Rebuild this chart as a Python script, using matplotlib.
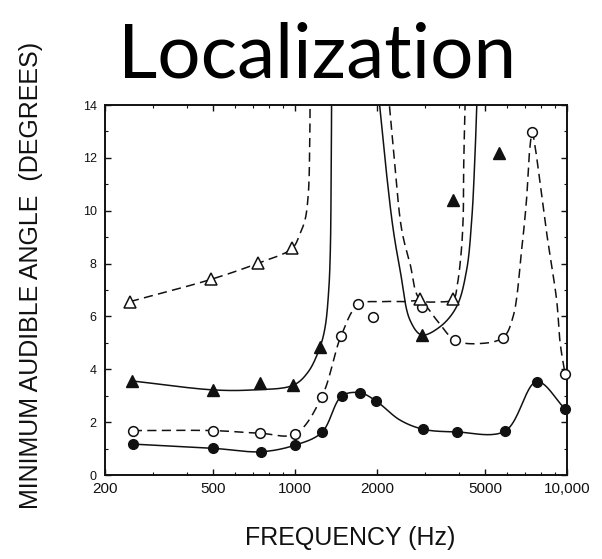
import numpy as np
import matplotlib.pyplot as plt
from matplotlib.ticker import FixedLocator, FixedFormatter, NullFormatter

# ---- data ----
# filled circles (solid)
fc_f = [253, 500, 750, 1000, 1254, 1485, 1734, 1986, 2963, 3930, 5916, 7740, 9840]
fc_y = [1.17, 1.01, 0.88, 1.13, 1.61, 2.99, 3.11, 2.80, 1.73, 1.63, 1.66, 3.53, 2.50]
fc_line_f = [253, 500, 750, 1000, 1254, 1485, 1734, 1986, 2430, 2963, 3930, 5916, 7740, 9840]
fc_line_y = [1.17, 1.01, 0.88, 1.13, 1.61, 2.99, 3.11, 2.80, 2.08, 1.73, 1.63, 1.66, 3.53, 2.50]

# open circles (dashed)
oc_f = [253, 500, 744, 1000, 1254, 1476, 1710, 1941, 2920, 3870, 5820, 7450, 9840]
oc_y = [1.68, 1.68, 1.58, 1.55, 2.96, 5.26, 6.47, 5.97, 6.36, 5.10, 5.20, 12.97, 3.82]
oc_line_f = [253, 500, 744, 1000, 1254, 1476, 1710, 2100, 2500, 2900, 3320, 3870, 4700,
             5820, 6334, 6808, 7096, 7290, 7450, 7600, 8420, 9160, 9440, 9840]
oc_line_y = [1.68, 1.68, 1.58, 1.55, 2.96, 5.26, 6.45, 6.56, 6.56, 6.55, 5.86, 5.10, 4.97,
             5.20, 5.99, 8.51, 10.4, 12.3, 12.97, 12.55, 9.15, 6.62, 4.98, 3.82]

# open triangles (dashed)
ot_f = [247, 490, 729, 977, 2880, 3820]
ot_y = [6.56, 7.40, 8.01, 8.58, 6.65, 6.65]
ot_line1_f = [247, 490, 729, 977, 1043, 1088, 1119, 1132, 1136]
ot_line1_y = [6.56, 7.40, 8.01, 8.58, 9.14, 9.65, 10.66, 12.5, 14.5]
ot_line2_f = [2200, 2330, 2468, 2646, 2880, 3350, 3820, 3950, 4080, 4150, 4170, 4230]
ot_line2_y = [14.5, 11.66, 9.27, 8.0, 6.65, 6.55, 6.65, 7.2, 8.4, 9.7, 11.7, 14.5]

# filled triangles (solid)
ft_f = [251, 500, 740, 986, 1236, 2920, 3800, 5630]
ft_y = [3.56, 3.22, 3.49, 3.40, 4.85, 5.30, 10.4, 12.2]
ft_line1_f = [251, 500, 700, 986, 1119, 1236, 1290, 1330, 1348, 1357, 1363]
ft_line1_y = [3.56, 3.22, 3.22, 3.40, 3.91, 4.85, 5.6, 7.0, 8.5, 11.0, 14.5]
ft_line2_f = [2023, 2156, 2297, 2433, 2646, 2920, 3413, 3927, 4275, 4462, 4570, 4677]
ft_line2_y = [14.5, 11.66, 9.27, 7.76, 5.86, 5.30, 5.61, 6.37, 7.76, 9.65, 11.66, 14.5]

x_ticks = [200, 500, 1000, 2000, 5000, 10000]
x_tick_labels = ['200', '500', '1000', '2000', '5000', '10,000']
y_ticks = [0, 2, 4, 6, 8, 10, 12, 14]


def smooth(xs, ys, n=24):
    # centripetal Catmull-Rom through the traced points, in log-x space
    u = np.log10(np.asarray(xs, float))
    v = np.asarray(ys, float) * 0.097
    P = np.column_stack([u, v])
    P = np.vstack([2 * P[0] - P[1], P, 2 * P[-1] - P[-2]])
    out = []
    for i in range(1, len(P) - 2):
        p0, p1, p2, p3 = P[i - 1], P[i], P[i + 1], P[i + 2]
        t0 = 0.0
        t1 = t0 + np.linalg.norm(p1 - p0) ** 0.5 + 1e-9
        t2 = t1 + np.linalg.norm(p2 - p1) ** 0.5 + 1e-9
        t3 = t2 + np.linalg.norm(p3 - p2) ** 0.5 + 1e-9
        t = np.linspace(t1, t2, n)[:, None]
        a1 = (t1 - t) / (t1 - t0) * p0 + (t - t0) / (t1 - t0) * p1
        a2 = (t2 - t) / (t2 - t1) * p1 + (t - t1) / (t2 - t1) * p2
        a3 = (t3 - t) / (t3 - t2) * p2 + (t - t2) / (t3 - t2) * p3
        b1 = (t2 - t) / (t2 - t0) * a1 + (t - t0) / (t2 - t0) * a2
        b2 = (t3 - t) / (t3 - t1) * a2 + (t - t1) / (t3 - t1) * a3
        c = (t2 - t) / (t2 - t1) * b1 + (t - t1) / (t2 - t1) * b2
        out.append(c)
    c = np.vstack(out)
    return 10 ** c[:, 0], c[:, 1] / 0.097


plt.rcParams['font.family'] = ['Liberation Sans', 'DejaVu Sans']
fig = plt.figure(figsize=(6.02, 5.59), dpi=100)
ax = fig.add_axes([105 / 602, 84 / 559, 462 / 602, 370 / 559])
ink = '#111111'
dash = (6, 3.5)

for lf, ly, style in [(fc_line_f, fc_line_y, 'solid'),
                      (oc_line_f, oc_line_y, 'dash'),
                      (ot_line1_f, ot_line1_y, 'dash'),
                      (ot_line2_f, ot_line2_y, 'dash'),
                      (ft_line1_f, ft_line1_y, 'solid'),
                      (ft_line2_f, ft_line2_y, 'solid')]:
    sx, sy = smooth(lf, ly)
    ln, = ax.plot(sx, sy, color=ink, lw=1.1)
    if style == 'dash':
        ln.set_dashes(dash)

ax.plot(fc_f, fc_y, 'o', ms=7, color=ink, clip_on=False, zorder=3)
ax.plot(oc_f, oc_y, 'o', ms=7, mfc='white', mec=ink, mew=1.1, clip_on=False, zorder=3)
ax.plot(ot_f, ot_y, '^', ms=8, mfc='white', mec=ink, mew=1.1, clip_on=False, zorder=3)
ax.plot(ft_f, ft_y, '^', ms=8, color=ink, clip_on=False, zorder=3)

ax.set_xscale('log')
ax.set_xlim(200, 10000)
ax.set_ylim(0, 14)
ax.xaxis.set_major_locator(FixedLocator(x_ticks))
ax.xaxis.set_major_formatter(FixedFormatter(x_tick_labels))
ax.xaxis.set_minor_formatter(NullFormatter())
ax.set_yticks(y_ticks)
ax.set_yticks(range(1, 14, 2), minor=True)
ax.tick_params(which='both', direction='in', top=True, right=True, colors=ink)
ax.tick_params(which='major', length=4, width=1)
ax.tick_params(which='minor', length=2.5, width=0.8)
ax.tick_params(axis='x', labelsize=11, pad=5)
ax.tick_params(axis='y', labelsize=9, pad=6)
for s in ax.spines.values():
    s.set_linewidth(1.4)
    s.set_color(ink)

fig.text(317 / 602, 1 - 77 / 559, 'Localization', ha='center', va='baseline',
         fontsize=55, family=['Lato', 'DejaVu Sans'], color='black')
fig.text(31 / 602, 1 - 275 / 559, 'MINIMUM AUDIBLE ANGLE  (DEGREES)', rotation=90,
         ha='center', va='center', fontsize=18, color=ink)
fig.text(350 / 602, 1 - 538 / 559, 'FREQUENCY (Hz)', ha='center', va='center',
         fontsize=18, color=ink)

fig.savefig('out.png', dpi=100, facecolor='white')
